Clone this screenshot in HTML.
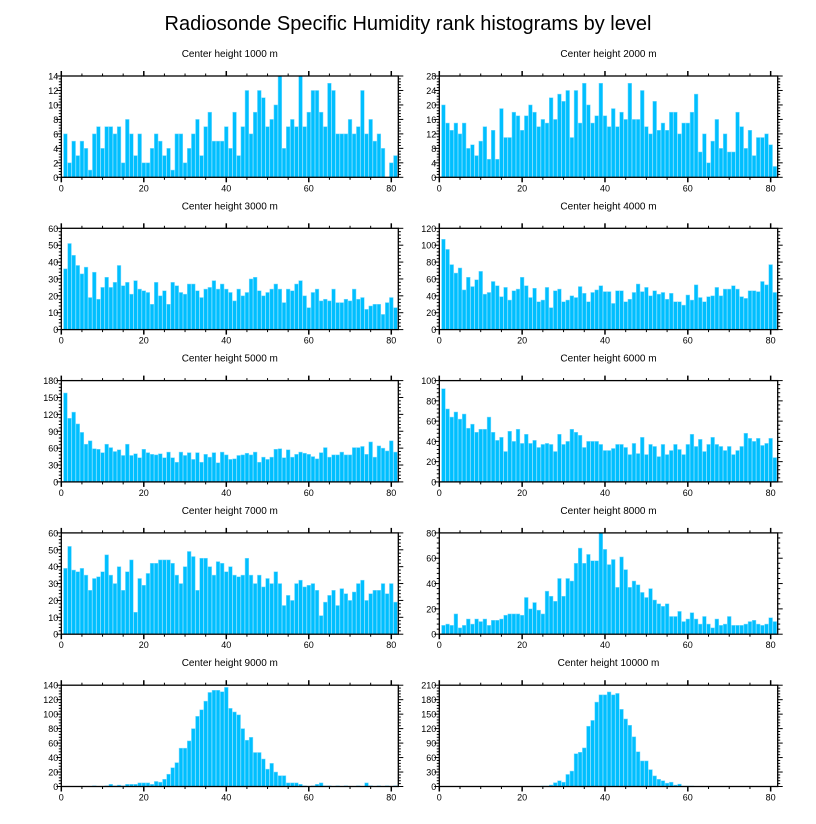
<!DOCTYPE html>
<html><head><meta charset="utf-8"><style>
html,body{margin:0;padding:0;background:#fff}
svg{display:block;font-family:"Liberation Sans",sans-serif}
</style></head><body>
<svg id="chart" width="816" height="824" viewBox="0 0 816 824">
<text x="408" y="30" text-anchor="middle" font-size="20">Radiosonde Specific Humidity rank histograms by level</text>
</svg>
<script>
const panelTitles = ["Center height 1000 m","Center height 2000 m","Center height 3000 m","Center height 4000 m","Center height 5000 m","Center height 6000 m","Center height 7000 m","Center height 8000 m","Center height 9000 m","Center height 10000 m"];
const yMax = [14,28,60,120,180,100,60,80,140,210];
const yStep = [2,4,10,20,30,20,10,20,20,30];
const xTicks = [0,20,40,60,80];
const h1000 = [6,2,5,3,5,4,1,6,7,4,7,7,6,7,2,8,6,3,6,2,2,4,6,5,3,4,1,6,6,2,4,6,8,3,7,9,5,5,5,7,4,9,3,7,12,6,9,12,11,7,8,10,14,4,7,8,7,14,7,9,12,12,9,7,13,12,6,6,6,8,6,7,12,6,8,5,6,4,0,2,3];
const h2000 = [20,15,13,15,12,15,8,9,6,10,14,5,13,5,19,11,11,18,17,13,17,20,18,14,16,15,22,16,23,21,24,11,24,15,26,20,15,17,26,17,14,19,14,18,16,26,16,16,24,14,12,21,13,15,13,18,18,12,15,15,18,23,7,12,4,10,16,8,12,7,7,18,14,8,13,6,11,11,12,9,3];
const h3000 = [36,51,44,38,33,37,19,34,18,25,31,25,28,38,26,28,21,29,24,23,22,15,28,20,23,15,28,26,22,21,27,27,23,19,24,25,29,24,27,24,22,17,24,20,22,30,31,23,20,22,24,27,24,16,24,23,27,29,20,13,22,24,17,18,17,24,16,16,18,17,24,18,19,12,14,15,15,9,16,19,13];
const h4000 = [107,95,77,67,73,47,62,51,59,69,42,44,57,52,39,50,35,46,48,62,52,38,49,33,35,50,26,46,48,33,35,40,38,51,43,33,44,47,52,45,45,31,46,46,33,36,44,54,45,50,40,46,42,44,36,43,33,33,29,41,35,53,38,33,39,40,50,40,48,48,52,48,39,37,46,46,45,57,53,77,44];
const h5000 = [158,113,124,103,88,67,73,59,58,52,67,61,54,57,47,67,47,50,43,58,52,49,48,50,43,53,43,35,53,47,52,40,52,35,49,44,52,34,53,48,40,41,47,48,51,48,53,35,44,40,44,58,59,43,57,44,49,53,51,49,45,41,52,61,44,48,48,53,48,48,61,61,63,49,71,44,64,60,55,73,53];
const h6000 = [92,72,64,69,62,67,53,57,49,52,52,64,49,41,44,30,50,40,52,38,47,38,41,34,37,38,37,30,47,37,40,52,49,46,34,40,40,40,37,31,31,33,37,37,34,27,38,28,44,27,37,35,25,37,27,31,37,32,27,37,47,35,42,30,37,44,37,35,31,35,27,31,35,48,43,40,43,36,38,43,24];
const h7000 = [39,52,38,37,39,35,26,33,34,37,47,35,30,40,26,37,44,13,33,29,36,42,42,44,44,44,42,35,30,40,49,46,26,45,45,40,35,43,42,37,40,35,34,35,45,35,30,35,28,33,30,37,30,17,23,20,30,32,28,29,30,26,11,19,23,26,17,27,24,20,25,30,32,20,24,26,26,30,24,30,19];
const h8000 = [7,8,7,16,5,7,12,8,12,10,12,7,11,11,12,15,16,16,16,15,29,20,25,19,16,34,30,26,44,30,44,42,56,68,56,63,58,58,80,67,55,59,37,61,51,37,42,39,33,29,36,27,24,22,24,14,14,18,10,12,17,12,8,14,8,5,12,7,8,14,7,7,7,8,10,11,8,7,8,13,10];
const h9000 = [0,0,0,0,0,0,0,1,0,0,1,3,1,2,1,3,3,3,5,5,5,3,7,6,10,17,26,33,53,53,63,80,97,106,118,130,133,133,131,137,108,103,99,80,64,68,47,47,38,24,32,20,15,15,5,5,5,3,1,0,1,3,5,1,1,0,1,0,1,0,0,1,0,5,1,0,1,0,1,0,1];
const h10000 = [0,0,0,0,0,0,0,0,0,0,0,0,0,0,0,0,0,0,0,0,0,0,0,0,1,1,3,8,12,9,25,32,68,71,80,125,137,175,190,190,196,190,193,160,140,127,103,72,53,53,35,22,15,12,7,9,3,5,1,1,1,0,0,0,0,0,0,0,0,0,0,0,0,0,0,0,0,0,0,0,0];
const series = [h1000,h2000,h3000,h4000,h5000,h6000,h7000,h8000,h9000,h10000];

const NS = "http://www.w3.org/2000/svg";
const svg = document.getElementById("chart");
const X_MAX = 81.7;
function mk(tag, attrs, parent){
  const e = document.createElementNS(NS, tag);
  for (const k in attrs) e.setAttribute(k, attrs[k]);
  parent.appendChild(e);
  return e;
}
series.forEach((vals, p) => {
  const col = p % 2, row = Math.floor(p / 2);
  const L = col === 0 ? 61.3 : 439.3;
  const W = col === 0 ? 337 : 338.4;
  const T = 76 + row * 152.3;
  const H = 101.3;
  const xs = v => L + v / X_MAX * W;
  const ys = v => T + H - v / yMax[p] * H;
  const g = mk("g", {}, svg);
  
  
  const t = mk("text", {x: L + W / 2, y: T - 19, "text-anchor": "middle", "font-size": "10"}, g);
  t.textContent = panelTitles[p];
  
  
  vals.forEach((v, i) => {
    const c = i + 1;
    const r = mk("rect", {x: xs(c - 0.45), y: ys(v), width: xs(c + 0.45) - xs(c - 0.45), height: Math.max(0, ys(0) - ys(v)), fill: "#00BFFF", stroke: "#7fdcff", "stroke-width": "0.5"}, g);
    
    
  });
  for (let v = 0; v <= yMax[p] + 1e-9; v += yStep[p] / 5) {
    const major = Math.abs(v / yStep[p] - Math.round(v / yStep[p])) < 1e-6;
    const len = major ? 5 : 2.5;
    const y = ys(v);
    mk("line", {x1: L - len, x2: L, y1: y, y2: y, stroke: "#000", "stroke-width": "1"}, g);
    mk("line", {x1: L + W, x2: L + W + len, y1: y, y2: y, stroke: "#000", "stroke-width": "1"}, g);
    if (major) {
      const tl = mk("text", {x: L - 3, y: y + 3.5, "text-anchor": "end", "font-size": "9"}, g);
      tl.textContent = Math.round(v);
      
      
    }
  }
  for (let v = 0; v <= 80; v += 5) {
    const major = v % 20 === 0;
    const len = major ? 5 : 2.5;
    const x = xs(v);
    mk("line", {x1: x, x2: x, y1: T + H, y2: T + H + len, stroke: "#000", "stroke-width": major ? "1.5" : "1"}, g);
    mk("line", {x1: x, x2: x, y1: T - len, y2: T, stroke: "#000", "stroke-width": major ? "1.5" : "1"}, g);
  }
  xTicks.forEach(v => {
    const tl = mk("text", {x: xs(v), y: T + H + 14, "text-anchor": "middle", "font-size": "9"}, g);
    tl.textContent = v;
    
    
  });
  const fr = mk("rect", {x: L, y: T, width: W, height: H, fill: "none", stroke: "#000", "stroke-width": "1.3"}, g);
  
  
});
</script>
</body></html>
